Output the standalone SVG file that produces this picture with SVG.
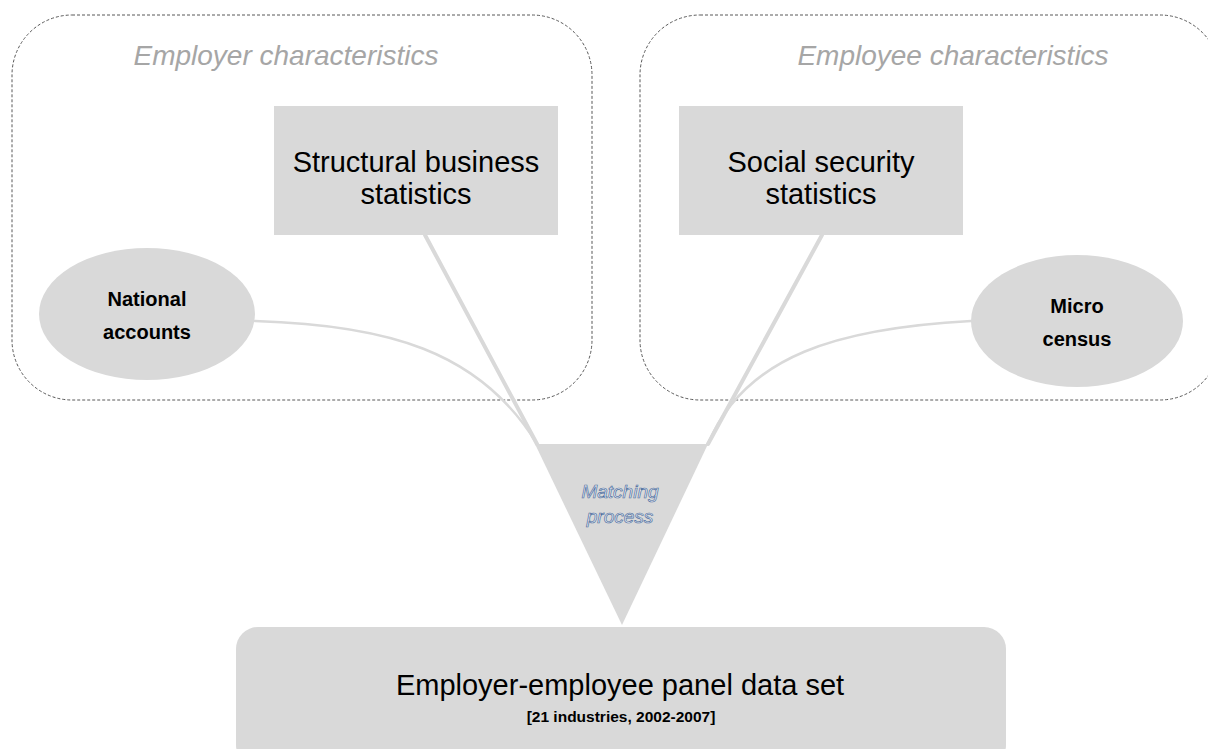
<svg xmlns="http://www.w3.org/2000/svg" width="1208" height="749" viewBox="0 0 1208 749">
<style>
.grp{fill:none;stroke:#595959;stroke-width:1;stroke-dasharray:3,2}
.shape{fill:#d9d9d9}
.conn{fill:none;stroke:#d9d9d9;stroke-linecap:round}
.title{font-family:"Liberation Sans",Arial,sans-serif;font-style:italic;font-size:28px;fill:#a6a6a6;text-anchor:middle}
.big{font-family:"Liberation Sans",Arial,sans-serif;font-size:29px;fill:#000;text-anchor:middle}
.small{font-family:"Liberation Sans",Arial,sans-serif;font-size:20px;font-weight:bold;fill:#000;text-anchor:middle}
.match{font-family:"Liberation Sans",Arial,sans-serif;font-style:italic;font-size:19px;fill:#eef2f8;stroke:#4f6f9f;stroke-width:0.7;text-anchor:middle}
</style>
<rect width="1208" height="749" fill="#fff"/>
<g id="employer-group">
<rect class="grp" x="12" y="15" width="580" height="385" rx="60" ry="60"/>
<text class="title" x="286" y="65">Employer characteristics</text>
</g>
<g id="employee-group">
<rect class="grp" x="640" y="15" width="580" height="385" rx="60" ry="60"/>
<text class="title" x="953" y="65">Employee characteristics</text>
</g>
<g id="connectors">
<line class="conn" x1="425" y1="235" x2="537" y2="444" stroke-width="4"/>
<line class="conn" x1="822" y1="235" x2="708" y2="444" stroke-width="4"/>
<path class="conn" d="M255,321 C385,325 480,350 537,444" stroke-width="2.5"/>
<path class="conn" d="M971,321 C840,328 745,355 708,444" stroke-width="2.5"/>
</g>
<g id="structural-business-statistics">
<rect class="shape" x="274" y="106" width="284" height="129"/>
<text class="big" x="416" y="172">Structural business</text>
<text class="big" x="416" y="204">statistics</text>
</g>
<g id="social-security-statistics">
<rect class="shape" x="679" y="106" width="284" height="129"/>
<text class="big" x="821" y="172">Social security</text>
<text class="big" x="821" y="204">statistics</text>
</g>
<g id="national-accounts">
<ellipse class="shape" cx="147" cy="314" rx="108" ry="66"/>
<text class="small" x="147" y="306">National</text>
<text class="small" x="147" y="339">accounts</text>
</g>
<g id="micro-census">
<ellipse class="shape" cx="1077" cy="321" rx="106" ry="66"/>
<text class="small" x="1077" y="313">Micro</text>
<text class="small" x="1077" y="346">census</text>
</g>
<g id="matching-process">
<polygon class="shape" points="535,444 708,444 622,625"/>
<text class="match" x="620" y="498">Matching</text>
<text class="match" x="620" y="523">process</text>
</g>
<g id="panel-data-set">
<rect class="shape" x="236" y="627" width="770" height="140" rx="22" ry="22"/>
<text class="big" x="620" y="695">Employer-employee panel data set</text>
<text class="small" x="621" y="722" style="font-size:15.5px">[21 industries, 2002-2007]</text>
</g>
</svg>
